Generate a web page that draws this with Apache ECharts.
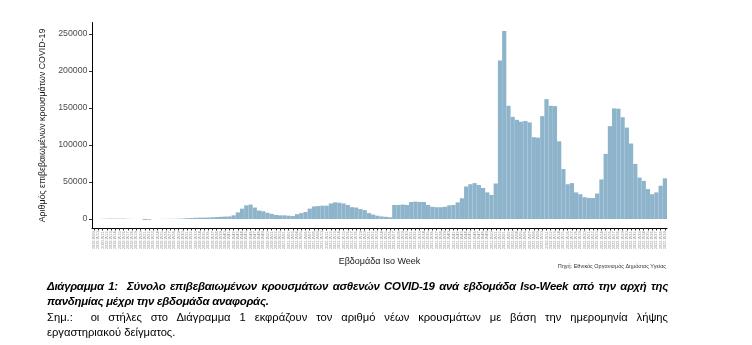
<!DOCTYPE html>
<html>
<head>
<meta charset="utf-8">
<script src="https://cdn.jsdelivr.net/npm/echarts@6/dist/echarts.min.js"></script>
<style>
html,body{margin:0;padding:0;background:#fff;}
#wrap{position:relative;width:752px;height:345px;overflow:hidden;}
#chart{position:absolute;left:0;top:0;width:752px;height:345px;}
.cap{position:absolute;left:47px;width:621px;line-height:15px;white-space:nowrap;color:#000;}
.just{text-align:justify;text-align-last:justify;white-space:normal;}
.b{font-family:"Liberation Sans",Arial,sans-serif;font-weight:bold;font-style:italic;font-size:11.4px;letter-spacing:-0.25px;}
.r{font-family:"Liberation Sans",Arial,sans-serif;font-size:11.2px;}
</style>
</head>
<body>
<div id="wrap">
<div id="chart"></div>
<div class="cap b just" style="top:279px;">Διάγραμμα 1:&nbsp; Σύνολο επιβεβαιωμένων κρουσμάτων ασθενών COVID-19 ανά εβδομάδα Iso-Week από την αρχή της</div>
<div class="cap b" style="top:294px;">πανδημίας μέχρι την εβδομάδα αναφοράς.</div>
<div class="cap r just" style="top:310px;">Σημ.:&nbsp; οι στήλες στο Διάγραμμα 1 εκφράζουν τον αριθμό νέων κρουσμάτων με βάση την ημερομηνία λήψης</div>
<div class="cap r" style="top:325px;">εργαστηριακού δείγματος.</div>
</div>
<script>
const weeks = [
'2020-W09','2020-W10','2020-W11','2020-W12','2020-W13','2020-W14','2020-W15','2020-W16','2020-W17','2020-W18',
'2020-W19','2020-W20','2020-W21','2020-W22','2020-W23','2020-W24','2020-W25','2020-W26','2020-W27','2020-W28',
'2020-W29','2020-W30','2020-W31','2020-W32','2020-W33','2020-W34','2020-W35','2020-W36','2020-W37','2020-W38',
'2020-W39','2020-W40','2020-W41','2020-W42','2020-W43','2020-W44','2020-W45','2020-W46','2020-W47','2020-W48',
'2020-W49','2020-W50','2020-W51','2020-W52','2020-W53',
'2021-W01','2021-W02','2021-W03','2021-W04','2021-W05','2021-W06','2021-W07','2021-W08','2021-W09','2021-W10',
'2021-W11','2021-W12','2021-W13','2021-W14','2021-W15','2021-W16','2021-W17','2021-W18','2021-W19','2021-W20',
'2021-W21','2021-W22','2021-W23','2021-W24','2021-W25','2021-W26','2021-W27','2021-W28','2021-W29','2021-W30',
'2021-W31','2021-W32','2021-W33','2021-W34','2021-W35','2021-W36','2021-W37','2021-W38','2021-W39','2021-W40',
'2021-W41','2021-W42','2021-W43','2021-W44','2021-W45','2021-W46','2021-W47','2021-W48','2021-W49','2021-W50',
'2021-W51','2021-W52',
'2022-W01','2022-W02','2022-W03','2022-W04','2022-W05','2022-W06','2022-W07','2022-W08','2022-W09','2022-W10',
'2022-W11','2022-W12','2022-W13','2022-W14','2022-W15','2022-W16','2022-W17','2022-W18','2022-W19','2022-W20',
'2022-W21','2022-W22','2022-W23','2022-W24','2022-W25','2022-W26','2022-W27','2022-W28','2022-W29','2022-W30',
'2022-W31','2022-W32','2022-W33','2022-W34','2022-W35','2022-W36','2022-W37','2022-W38','2022-W39'
];
const cases = [
10,80,250,450,550,500,450,500,250,150,
100,80,-1200,-900,60,100,150,200,250,300,
450,700,1100,1400,1700,1800,1900,2100,2300,2700,
3000,3300,3500,5000,9000,14000,18500,19500,15500,11500,
10500,8500,7000,5500,5000,5000,4500,4000,6500,8000,
9500,14000,17000,17500,18000,18000,21000,22500,22000,21000,
19000,16000,15500,13500,12000,8000,6000,4500,3500,3000,
2300,19000,19000,19500,19000,23000,23500,23000,23000,19000,
16500,16000,16000,16500,18500,19000,22500,28000,44000,47000,
48500,46000,42000,36000,32500,48000,214000,254000,153000,138000,
134000,131500,132500,130500,110500,110000,139000,162000,153000,152500,
105000,67500,47000,48500,36000,33500,29500,28500,28300,34500,
53500,88000,125500,149500,149000,137500,123500,102000,74500,56000,
51500,40500,33500,36000,45000,55000
];
const yTicks = [0, 50000, 100000, 150000, 200000, 250000];
const yName = 'Αριθμός επιβεβαιωμένων κρουσμάτων COVID-19';
const xName = 'Εβδομάδα Iso Week';
const sourceText = 'Πηγή: Εθνικός Οργανισμός Δημόσιας Υγείας';

const chart = echarts.init(document.getElementById('chart'), null, {renderer: 'canvas'});
chart.setOption({
  animation: false,
  backgroundColor: '#fff',
  grid: {left: 92, right: 85, top: 22.5, bottom: 116.5, containLabel: false},
  xAxis: {
    type: 'category',
    data: weeks,
    name: xName,
    nameLocation: 'middle',
    nameGap: 27.5,
    nameTextStyle: {fontFamily: 'Liberation Sans', fontSize: 9, color: '#1a1a1a'},
    axisLine: {show: true, onZero: false, lineStyle: {color: '#000', width: 1}},
    axisTick: {show: true, alignWithLabel: true, interval: 0, length: 2, lineStyle: {color: '#333', width: 1}},
    axisLabel: {show: true, interval: 0, rotate: 90, fontSize: 3.8, color: '#8f8f8f', margin: 3, fontFamily: 'Liberation Sans'},
    splitLine: {show: false}
  },
  yAxis: {
    type: 'value',
    min: -12800,
    max: 265500,
    name: yName,
    nameLocation: 'middle',
    nameGap: 40,
    nameRotate: 90,
    nameTextStyle: {fontFamily: 'Liberation Sans', fontSize: 8.8, color: '#1a1a1a'},
    axisLine: {show: true, lineStyle: {color: '#000', width: 1}},
    axisTick: {show: true, length: 3, customValues: yTicks, lineStyle: {color: '#333'}},
    axisLabel: {show: true, customValues: yTicks, fontSize: 8.8, color: '#4d4d4d', margin: 4.5, fontFamily: 'Liberation Sans',
      formatter: function (v) { return String(v); }},
    splitLine: {show: false}
  },
  graphic: [{
    type: 'text',
    right: 86,
    top: 263,
    style: {text: sourceText, fontSize: 5.5, fill: '#333', fontFamily: 'Liberation Sans'}
  }],
  series: [{
    type: 'bar',
    data: cases,
    barCategoryGap: '0%',
    itemStyle: {color: '#8db4cb'}
  }]
});
</script>
</body>
</html>
